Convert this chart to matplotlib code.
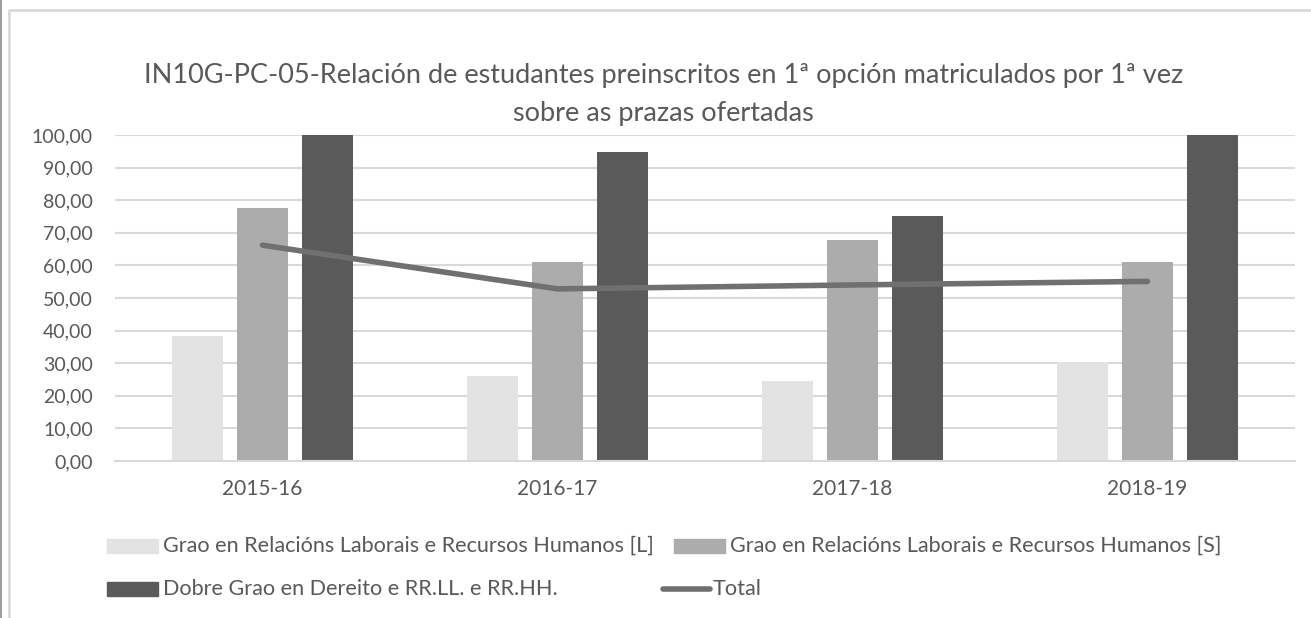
import matplotlib
matplotlib.use("Agg")
from matplotlib import pyplot as plt
from matplotlib.patches import Rectangle
from matplotlib.lines import Line2D
import numpy as np

years = ["2015-16", "2016-17", "2017-18", "2018-19"]
laborais_l = [38.4, 26.1, 24.5, 30.3]
laborais_s = [77.7, 61.0, 67.8, 61.0]
dobre_grao = [100.0, 94.9, 75.1, 100.0]
total = [66.2, 52.8, 54.0, 55.1]

series_names = [
    "Grao en Relacións Laborais e Recursos Humanos [L]",
    "Grao en Relacións Laborais e Recursos Humanos [S]",
    "Dobre Grao en Dereito e RR.LL. e RR.HH.",
    "Total",
]
bar_colors = ["#e3e3e3", "#acacac", "#5a5a5a"]
line_color = "#707070"
text_color = "#595959"

plt.rcParams['font.family'] = ['Lato', 'DejaVu Sans']

fig = plt.figure(figsize=(13.11, 6.18), dpi=100)
ax = fig.add_axes([115 / 1311, 1 - 461 / 618, 1180 / 1311, 326 / 618])

x = np.arange(len(years))
width = 0.173
step = 0.22
for i, vals in enumerate([laborais_l, laborais_s, dobre_grao]):
    ax.bar(x + (i - 1) * step, vals, width=width, color=bar_colors[i], zorder=2)
ax.plot(x, total, color=line_color, lw=4, solid_capstyle='round', zorder=3)

ax.set_xlim(-0.5, len(years) - 0.5)
ax.set_ylim(0, 100)
ax.set_yticks(np.arange(0, 101, 10))
ax.set_yticklabels([f"{v:.2f}".replace(".", ",") for v in np.arange(0, 101, 10)])
ax.set_xticks(x)
ax.set_xticklabels(years)
ax.yaxis.grid(True, color="#d9d9d9", lw=1.5, zorder=0)
ax.set_axisbelow(True)
for s in ["top", "right", "left"]:
    ax.spines[s].set_visible(False)
ax.spines["bottom"].set_color("#d9d9d9")
ax.spines["bottom"].set_linewidth(1.5)
ax.tick_params(length=0, colors=text_color)
ax.tick_params(axis='y', pad=16, labelsize=14)
ax.tick_params(axis='x', pad=13, labelsize=15)

fig.text(0.506, 1 - 75 / 618, "IN10G-PC-05-Relación de estudantes preinscritos en 1ª opción matriculados por 1ª vez",
         ha='center', va='center', fontsize=19.5, color=text_color)
fig.text(0.506, 1 - 113 / 618, "sobre as prazas ofertadas",
         ha='center', va='center', fontsize=19.5, color=text_color)

# legend, drawn by hand to match the layout
W, H = 1311, 618
def legend_patch(px, py, color):
    fig.patches.append(Rectangle((px / W, 1 - (py + 7) / H), 51 / W, 14 / H,
                                 color=color, transform=fig.transFigure, figure=fig))

leg_size = 15.6
legend_patch(107, 546, bar_colors[0])
fig.text(163 / W, 1 - 546 / H, series_names[0], va='center', fontsize=leg_size, color=text_color)
legend_patch(674, 546, bar_colors[1])
fig.text(730 / W, 1 - 546 / H, series_names[1], va='center', fontsize=leg_size, color=text_color)
legend_patch(107, 589, bar_colors[2])
fig.text(163 / W, 1 - 589 / H, series_names[2], va='center', fontsize=leg_size, color=text_color)
fig.lines.append(Line2D([663 / W, 710 / W], [1 - 589 / H] * 2, color=line_color, lw=4,
                        solid_capstyle='round', transform=fig.transFigure, figure=fig))
fig.text(713 / W, 1 - 589 / H, series_names[3], va='center', fontsize=leg_size, color=text_color)

# chart border
fig.lines.append(Line2D([9 / W, 9 / W, 1], [0, 1 - 10 / H, 1 - 10 / H], color="#d9d9d9", lw=2,
                        transform=fig.transFigure, figure=fig))
fig.lines.append(Line2D([0.5 / W, 0.5 / W], [0, 1], color="#a0a0a0", lw=1.5,
                        transform=fig.transFigure, figure=fig))

fig.savefig("out.png", dpi=100)
